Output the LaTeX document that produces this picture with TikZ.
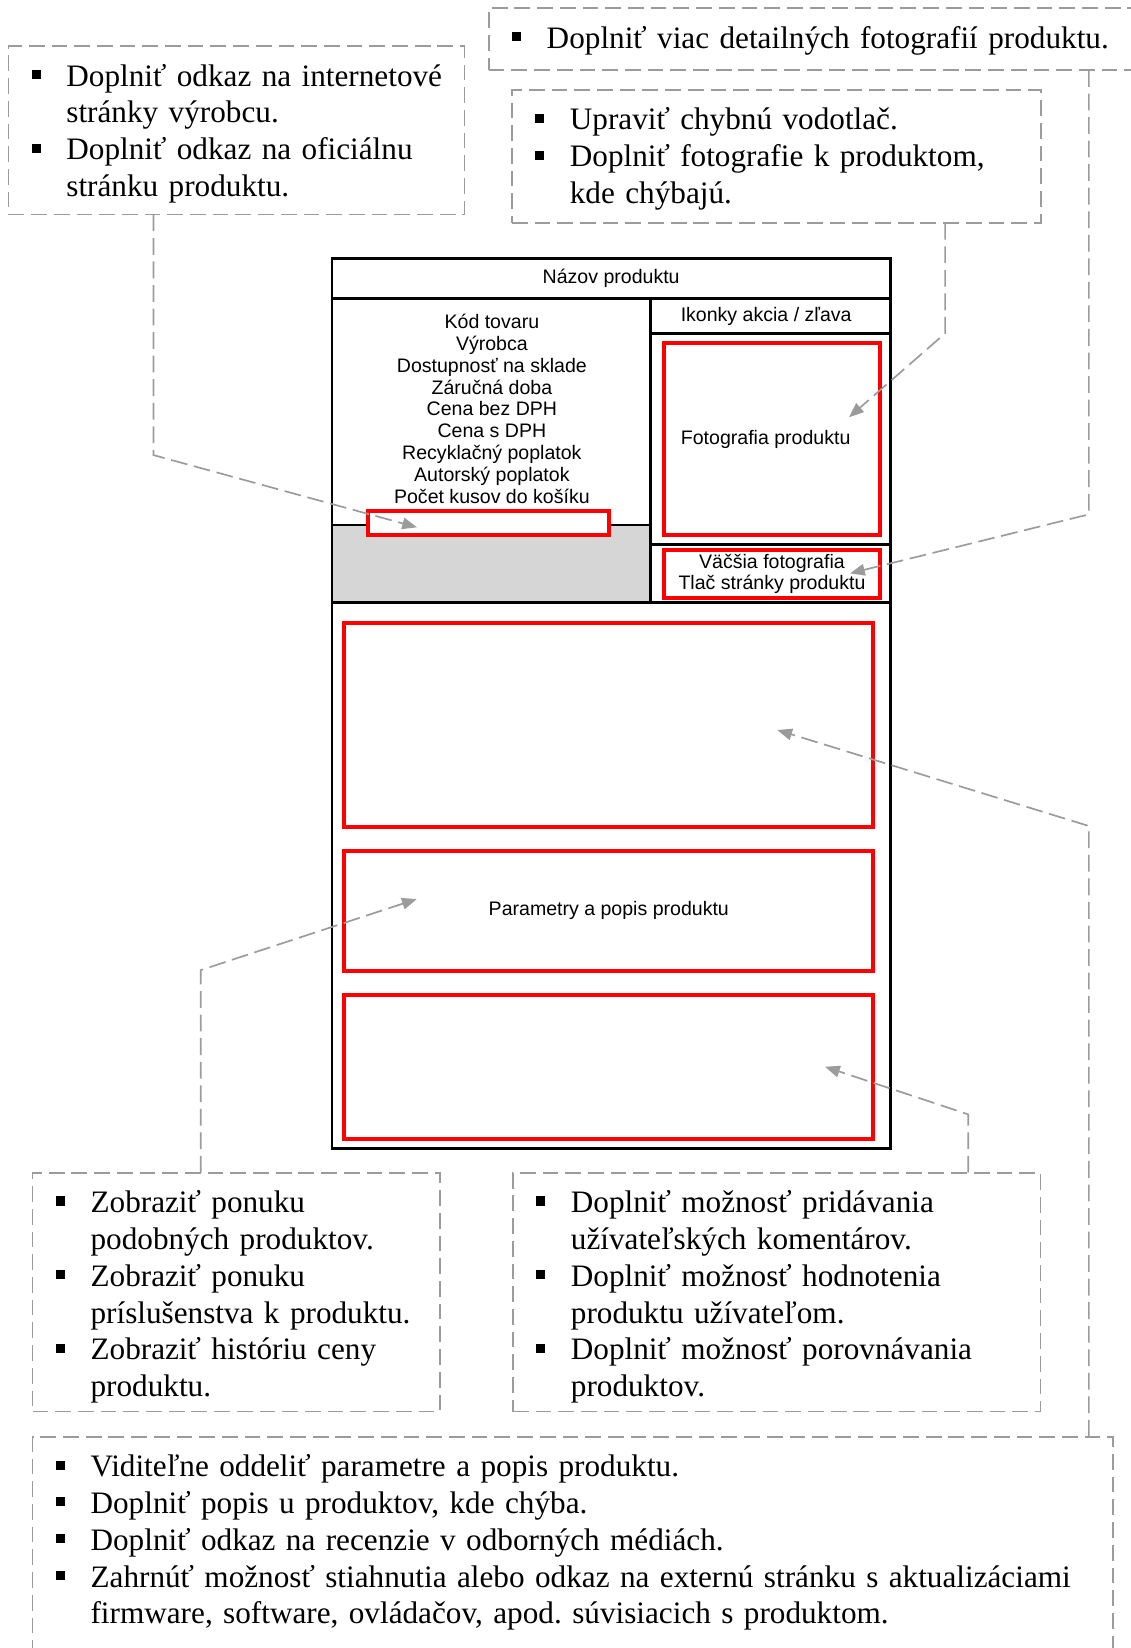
\documentclass[tikz,border=0pt]{standalone}
\usepackage{fontspec}
\setmainfont{Liberation Serif}
\newfontfamily\arialfont{Liberation Sans}
\usetikzlibrary{arrows.meta}
\definecolor{dashgray}{RGB}{155,155,155}
\definecolor{cartgray}{RGB}{214,214,214}
\frenchspacing
\newcommand{\sqbullet}{\rule[3.4pt]{4.3pt}{4.3pt}}
\newcommand{\noteitem}[1]{\noindent\makebox[16.6pt][l]{\sqbullet}\mbox{#1}\par}
\newcommand{\notecont}[1]{\noindent\hspace*{16.6pt}\mbox{#1}\par}
\begin{document}
\begin{tikzpicture}[
    x = 0.5pt, y = -0.5pt,
    note/.style    = {draw = dashgray, line width = 0.8pt, dash pattern = on 7.5pt off 3.3pt,
                      anchor = north west, inner xsep = 11pt, inner ysep = 0pt, outer sep = 0pt,
                      text height = 19pt, align = left, font = \fontsize{14.85}{17.5}\selectfont},
    link/.style    = {draw = dashgray, line width = 0.8pt, dash pattern = on 8pt off 3.2pt,
                      -{Triangle[length = 7pt, width = 5.5pt]}},
    frame/.style   = {line width = 1.25pt},
    uitext/.style  = {font = \arialfont\fontsize{9.3}{10.4}\selectfont, align = center, inner sep = 0pt},
    hotspot/.style = {draw = red, line width = 1.9pt, anchor = north west, inner sep = 0pt,
                      outer sep = 0pt, fill = white, uitext}
  ]
  \useasboundingbox (0,0) rectangle (1076,1568);
  % product page layout
  \fill[cartgray] (316,499.5) rectangle (619,573);
  \draw[frame] (316,246) rectangle (847,1093);
  \draw[frame] (316,284) -- (847,284);
  \draw[frame] (619,284) -- (619,573);
  \draw[frame] (316,573) -- (847,573);
  \draw[frame] (619,317.5) -- (847,317.5);
  \draw[frame] (619,518) -- (847,518);
  \draw[frame] (316,499.5) -- (619,499.5);
  \node[uitext] (title) at (581.5,265) {Názov produktu};
  \node[uitext] (facts) at (468,389) {Kód tovaru\\Výrobca\\Dostupnosť na sklade\\Záručná doba\\Cena bez DPH\\Cena s DPH\\Recyklačný poplatok\\Autorský poplatok\\Počet kusov do košíku};
  \node[uitext] (icons) at (729,301) {Ikonky akcia / zľava};
  % marked areas
  \node[hotspot, minimum width = 114.75pt, minimum height = 11.5pt]  (cart)   at (350,486)   {};
  \node[hotspot, minimum width = 103pt,    minimum height = 91.25pt] (photo)  at (631.5,326.5) {Fotografia produktu\hspace*{6pt}};
  \node[hotspot, minimum width = 103pt,    minimum height = 23pt]    (links)  at (631.5,523) {Väčšia fotografia\\Tlač stránky produktu};
  \node[hotspot, minimum width = 251.75pt, minimum height = 96.75pt] (upper)  at (327.5,593) {};
  \node[hotspot, minimum width = 251.75pt, minimum height = 57pt]    (params) at (327.5,809.5) {Parametry a popis produktu};
  \node[hotspot, minimum width = 251.75pt, minimum height = 68.5pt]  (lower)  at (327.5,947) {};
  % notes
  \node[note, text width = 195pt, text depth = 61pt] (maker) at (8,44) {%
    \noteitem{Doplniť odkaz na internetové}%
    \notecont{stránky výrobcu.}%
    \noteitem{Doplniť odkaz na oficiálnu}%
    \notecont{stránku produktu.}};
  \node[note, text width = 308pt, text depth = 10.35pt] (photos) at (465,7.9) {%
    \noteitem{Doplniť viac detailných fotografií produktu.}};
  \node[note, text width = 229.6pt, text depth = 44.2pt] (watermark) at (487,85.6) {%
    \noteitem{Upraviť chybnú vodotlač.}%
    \noteitem{Doplniť fotografie k produktom,}%
    \notecont{kde chýbajú.}};
  \node[note, text width = 171.8pt, text depth = 94.6pt] (similar) at (31,1115.8) {%
    \noteitem{Zobraziť ponuku}%
    \notecont{podobných produktov.}%
    \noteitem{Zobraziť ponuku}%
    \notecont{príslušenstva k produktu.}%
    \noteitem{Zobraziť históriu ceny}%
    \notecont{produktu.}};
  \node[note, text width = 229pt, text depth = 94.6pt] (reviews) at (488,1115.8) {%
    \noteitem{Doplniť možnosť pridávania}%
    \notecont{užívateľských komentárov.}%
    \noteitem{Doplniť možnosť hodnotenia}%
    \notecont{produktu užívateľom.}%
    \noteitem{Doplniť možnosť porovnávania}%
    \notecont{produktov.}};
  \node[note, text width = 491.9pt, text depth = 120pt] (content) at (31,1367) {%
    \noteitem{Viditeľne oddeliť parametre a popis produktu.}%
    \noteitem{Doplniť popis u produktov, kde chýba.}%
    \noteitem{Doplniť odkaz na recenzie v odborných médiách.}%
    \noteitem{Zahrnúť možnosť stiahnutia alebo odkaz na externú stránku s aktualizáciami}%
    \notecont{firmware, software, ovládačov, apod. súvisiacich s produktom.}};
  % knees and arrow tips
  \coordinate (kneeCart)   at (146,433);
  \coordinate (tipCart)    at (396.7,501.7);
  \coordinate (kneePhoto)  at (899.2,317.2);
  \coordinate (tipPhoto)   at (807.8,397);
  \coordinate (kneeLinks)  at (1036,489.4);
  \coordinate (tipLinks)   at (808.8,545.5);
  \coordinate (kneeUpper)  at (1036,785.9);
  \coordinate (tipUpper)   at (739.6,694.6);
  \coordinate (kneeLower)  at (921.3,1060.3);
  \coordinate (tipLower)   at (785,1015);
  \coordinate (kneeParams) at (191,923);
  \coordinate (tipParams)  at (396.5,855.4);
  % connectors
  \draw[link] (maker.south -| kneeCart)      -- (kneeCart)   -- (tipCart);
  \draw[link] (watermark.south -| kneePhoto) -- (kneePhoto)  -- (tipPhoto);
  \draw[link] (photos.south -| kneeLinks)    -- (kneeLinks)  -- (tipLinks);
  \draw[link] (content.north -| kneeUpper)   -- (kneeUpper)  -- (tipUpper);
  \draw[link] (reviews.north -| kneeLower)   -- (kneeLower)  -- (tipLower);
  \draw[link] (similar.north -| kneeParams)  -- (kneeParams) -- (tipParams);
\end{tikzpicture}
\end{document}
